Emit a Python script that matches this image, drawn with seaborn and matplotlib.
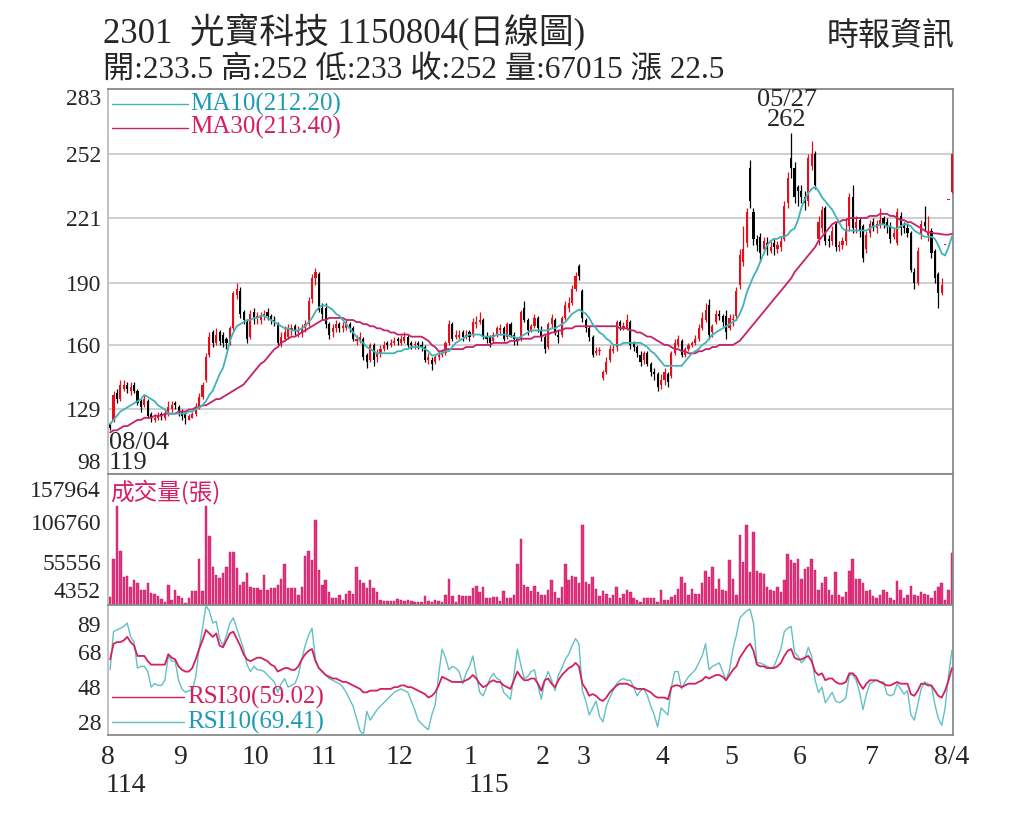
import numpy as np
import pandas as pd
import matplotlib
matplotlib.use("Agg")
import matplotlib.pyplot as plt
import seaborn as sns

# ---------------- data ----------------
month_names = ["8", "9", "10", "11", "12", "1", "2", "3", "4", "5", "6", "7", "8/4"]
month_days = [21, 22, 20, 22, 21, 21, 12, 23, 20, 20, 21, 24]
year_marks = {"8": "114", "1": "115"}
hi_date = "05/27"
lo_date = "08/04"

close = [
    120, 136, 134, 141, 141, 139, 140, 138, 132, 130, 134, 126, 125, 125, 126, 126, 127, 130, 131, 131, 128,
    126, 125, 126, 127, 130, 135, 141, 154, 164, 161, 165, 162, 161, 161, 168, 185, 187, 175, 172, 163, 175, 173,
    173, 174, 175, 174, 172, 171, 161, 164, 166, 168, 168, 167, 167, 168, 170, 181, 192, 195, 177, 175,
    170, 165, 168, 170, 168, 169, 170, 168, 163, 163, 164, 154, 152, 160, 153, 156, 158, 160, 160, 161, 162, 162,
    163, 164, 160, 160, 160, 160, 159, 153, 154, 151, 154, 155, 156, 161, 170, 163, 165, 165, 164, 165, 164,
    171, 171, 172, 164, 163, 161, 165, 168, 168, 163, 170, 165, 163, 162, 176, 172, 167, 169, 173, 168, 164,
    158, 170, 173, 166, 164, 173, 179, 180, 187, 193, 193, 173,
    168, 164, 155, 157, 157, 147, 152, 158, 158, 171, 169, 169, 172, 160, 159, 156, 152, 156, 151, 147, 146, 140, 143,
    147, 142, 156, 161, 163, 155, 158, 160, 161, 163, 168, 173, 177, 165, 169, 175, 174, 171, 166, 173,
    172, 186, 203, 206, 224, 229, 211, 208, 204, 210, 206, 207, 207, 208, 210, 227, 240, 245, 231, 234,
    231, 228, 250, 252, 237, 219, 225, 210, 210, 215, 207, 208, 210, 215, 231, 216, 219, 215, 202, 213, 218,
    217, 218, 220, 218, 217, 211, 214, 224, 216, 216, 214, 196, 190, 205, 218, 217, 214, 204, 192, 185, 189, 208, 229.5, 252,
]
open_ = [
    122, 124, 137, 134, 139, 141, 138, 141, 138, 133, 131, 133, 127, 124, 125, 127, 125, 127, 129, 132, 130,
    128, 127, 124, 125, 127, 130, 135, 143, 155, 166, 161, 166, 165, 163, 161, 168, 184, 186, 176, 171, 164, 176,
    173, 172, 174, 176, 174, 172, 170, 161, 163, 164, 167, 169, 166, 166, 168, 170, 182, 192, 194, 178,
    178, 170, 166, 168, 170, 168, 168, 170, 168, 162, 163, 163, 155, 153, 160, 154, 156, 158, 161, 160, 161, 163,
    161, 162, 164, 161, 160, 161, 160, 159, 153, 153, 152, 154, 155, 156, 161, 170, 164, 164, 166, 164, 166,
    165, 170, 171, 172, 164, 164, 162, 165, 167, 168, 164, 170, 165, 163, 163, 178, 172, 167, 169, 173, 167,
    164, 159, 170, 172, 165, 165, 173, 178, 180, 187, 198, 186,
    172, 168, 164, 156, 157, 144, 147, 153, 157, 159, 171, 168, 168, 171, 161, 159, 155, 153, 156, 151, 147, 146, 141,
    143, 146, 145, 156, 160, 162, 155, 158, 160, 161, 163, 168, 172, 179, 166, 171, 175, 174, 174, 168,
    172, 174, 189, 200, 209, 245, 224, 211, 212, 206, 209, 205, 209, 206, 207, 211, 228, 250, 245, 236,
    234, 231, 229, 246, 252, 211, 216, 226, 211, 210, 218, 207, 208, 210, 217, 231, 216, 220, 217, 206, 214,
    219, 216, 218, 221, 219, 217, 212, 209, 222, 217, 216, 214, 195, 190, 213, 219, 213, 215, 205, 194, 185, 208, 229.5, 233.5,
]
high = [
    123, 138, 139, 143, 143, 142, 142, 142, 139, 134, 136, 134, 128, 127, 128, 128, 129, 133, 133, 133, 131,
    129, 128, 127, 128, 132, 137, 142, 156, 166, 167, 168, 167, 166, 164, 169, 186, 190, 188, 177, 172, 177, 178,
    176, 176, 177, 178, 175, 174, 171, 166, 169, 170, 170, 170, 169, 170, 172, 183, 194, 197, 195, 180,
    180, 171, 170, 172, 171, 171, 172, 171, 169, 165, 166, 164, 156, 161, 161, 158, 160, 162, 162, 163, 164, 164,
    165, 166, 165, 162, 162, 162, 162, 160, 156, 154, 155, 157, 158, 162, 172, 171, 167, 167, 167, 167, 167,
    173, 174, 176, 173, 166, 165, 166, 169, 170, 169, 171, 171, 166, 164, 177, 181, 173, 170, 175, 174, 169,
    165, 171, 175, 173, 167, 174, 181, 183, 189, 195, 199, 187,
    173, 169, 165, 159, 159, 148, 154, 160, 160, 172, 172, 171, 175, 172, 162, 160, 157, 157, 157, 152, 149, 147, 146,
    149, 147, 157, 163, 165, 163, 159, 161, 162, 165, 170, 176, 180, 182, 170, 177, 177, 175, 177, 175,
    175, 188, 206, 217, 226, 249, 226, 213, 214, 212, 212, 210, 211, 210, 212, 229, 243, 262, 248, 237,
    237, 234, 252, 258, 253, 222, 227, 227, 213, 217, 219, 210, 212, 221, 233, 237, 222, 221, 218, 215, 220,
    221, 220, 226, 222, 221, 219, 216, 226, 224, 219, 218, 215, 197, 207, 220, 227, 222, 216, 206, 195, 192, 208, 229.5, 252,
]
low = [
    119, 123, 132, 133, 138, 137, 136, 137, 131, 128, 130, 125, 123, 123, 124, 124, 124, 126, 128, 129, 126,
    124, 122, 124, 125, 126, 129, 134, 142, 154, 159, 160, 160, 159, 158, 160, 167, 182, 173, 170, 161, 163, 170,
    170, 170, 172, 172, 170, 169, 160, 159, 162, 163, 165, 165, 164, 164, 166, 169, 180, 189, 176, 172,
    168, 163, 164, 166, 166, 166, 167, 166, 162, 160, 161, 153, 149, 152, 150, 152, 154, 157, 158, 159, 160, 160,
    160, 161, 159, 158, 158, 158, 157, 152, 151, 148, 151, 153, 154, 155, 160, 162, 163, 163, 162, 163, 162,
    164, 168, 170, 163, 161, 159, 161, 164, 165, 162, 163, 164, 160, 160, 162, 171, 165, 166, 168, 166, 162,
    156, 158, 168, 165, 161, 164, 172, 176, 179, 186, 191, 171,
    166, 162, 154, 155, 155, 143, 146, 152, 156, 157, 167, 167, 167, 158, 157, 154, 150, 151, 150, 145, 143, 138, 139,
    141, 140, 144, 155, 159, 154, 154, 157, 159, 160, 162, 167, 171, 163, 164, 170, 172, 169, 163, 167,
    169, 172, 187, 198, 207, 226, 208, 205, 200, 204, 203, 204, 203, 204, 205, 210, 226, 240, 228, 227,
    228, 225, 227, 244, 235, 208, 214, 208, 207, 208, 205, 205, 206, 208, 215, 214, 214, 212, 200, 204, 212,
    215, 214, 216, 216, 214, 209, 211, 208, 213, 214, 212, 195, 187, 189, 211, 215, 210, 202, 190, 178, 184, 208, 229.5, 233,
]
# volume in thousands of lots (張)
vol_k = [
    12, 60, 127, 70, 37, 38, 24, 33, 30, 21, 21, 30, 17, 16, 13, 9, 6, 27, 8, 21, 13,
    11, 4.5, 11, 19, 19, 60, 19, 127, 89, 50, 40, 36, 42, 50, 69, 69, 48, 27, 31, 42, 25,
    23, 23, 21, 40, 21, 23, 23, 27, 35, 54, 23, 23, 23, 14, 25, 63, 70, 58, 109, 46, 27,
    33, 18, 11, 11, 14, 8, 16, 19, 16, 49, 33, 30, 23, 33, 23, 18, 8, 7, 7, 7, 7, 9,
    8, 7, 8, 7, 6, 6, 5, 13, 7, 6, 8, 7, 6, 15, 35, 13, 6, 15, 13, 13, 13,
    23, 26, 18, 24, 11, 11, 12, 12, 7, 20, 11, 11, 15, 54, 85, 27, 24, 19, 26, 18, 15,
    15, 21, 33, 18, 10, 25, 53, 33, 38, 37, 29, 102, 31, 28, 37, 22, 13, 19, 16, 10, 15,
    25, 11, 16, 21, 18, 11, 8, 6, 11, 11, 11, 11, 6, 21, 8, 8, 12, 14, 22, 37, 30,
    14, 22, 16, 16, 29, 45, 37, 50, 22, 35, 21, 19, 58, 34, 14, 90, 56, 102, 43, 94, 45,
    42, 41, 25, 21, 20, 24, 18, 33, 66, 58, 55, 60, 35, 47, 49, 60, 46, 21, 29, 37, 21,
    14, 43, 15, 12, 18, 45, 60, 34, 35, 30, 19, 21, 13, 11, 14, 21, 18, 10, 8, 32, 21,
    11, 15, 26, 14, 13, 18, 16, 15, 10, 19, 25, 29, 8, 21, 67.015,
]
ma10 = [
    122, 124, 126, 128, 129, 130, 131, 132, 133, 134, 136,
    135, 134, 133, 131, 130, 129, 127, 127, 127, 127, 127,
    127, 128, 128, 129, 130, 131, 133, 136, 138, 142, 146,
    149, 155, 162, 166, 169, 170, 171, 172, 172, 173, 173,
    174, 174, 173, 172, 171, 170, 169, 168, 168, 167, 167,
    167, 168, 169, 171, 173, 176, 178, 179, 179, 178, 177,
    175, 174, 172, 170, 168, 166, 164, 162, 161, 159, 158,
    157, 156, 156, 156, 156, 156, 156, 157, 157, 158, 158,
    159, 159, 159, 159, 158, 157, 155, 155, 156, 156, 157,
    157, 159, 161, 162, 163, 164, 165, 165, 165, 165, 164,
    164, 164, 164, 165, 165, 165, 165, 164, 164, 163, 164,
    165, 166, 167, 167, 167, 167, 167, 167, 168, 168, 169,
    170, 171, 173, 175, 176, 177, 176, 175, 173, 170, 168,
    166, 165, 163, 162, 160, 160, 160, 161, 161, 161, 161,
    161, 161, 160, 159, 157, 156, 154, 152, 150, 150, 150,
    150, 150, 150, 152, 154, 156, 157, 158, 160, 161, 163,
    165, 166, 167, 168, 169, 170, 171, 172, 175, 179, 185,
    189, 193, 196, 200, 204, 208, 210, 211, 211, 212, 212,
    213, 215, 216, 220, 226, 230, 233, 235, 236, 234, 231,
    229, 227, 225, 222, 219, 216, 215, 215, 215, 215, 215,
    215, 215, 216, 217, 217, 218, 218, 217, 217, 216, 216,
    217, 218, 218, 217, 215, 214, 213, 212, 212, 212, 211,
    208, 204, 203, 207, 212.20,
]
ma30 = [
    118, 119, 119, 120, 121, 121, 122, 123, 124, 124, 125,
    125, 125, 126, 126, 126, 127, 127, 127, 127, 128, 128,
    128, 129, 129, 130, 130, 131, 131, 132, 133, 134, 134,
    135, 136, 137, 138, 139, 140, 141, 143, 145, 147, 149,
    151, 152, 154, 156, 158, 159, 161, 162, 163, 164, 164,
    165, 166, 167, 168, 169, 170, 171, 172, 172, 173, 173,
    173, 173, 173, 172, 172, 172, 171, 171, 170, 170, 169,
    169, 168, 168, 167, 167, 166, 166, 165, 165, 165, 165,
    164, 164, 164, 164, 163, 162, 160, 159, 157, 157, 158,
    158, 158, 158, 158, 158, 159, 159, 159, 160, 160, 160,
    160, 160, 161, 161, 161, 161, 161, 162, 162, 162, 163,
    163, 163, 163, 164, 164, 164, 165, 165, 166, 166, 167,
    167, 168, 168, 168, 169, 169, 169, 169, 169, 169, 169,
    169, 169, 169, 169, 169, 169, 168, 168, 168, 167, 167,
    166, 166, 165, 164, 164, 163, 162, 161, 160, 160, 159,
    158, 158, 157, 157, 156, 156, 156, 157, 157, 158, 158,
    159, 159, 160, 160, 160, 160, 160, 161, 162, 164, 166,
    168, 170, 172, 174, 176, 178, 180, 182, 184, 186, 188,
    190, 192, 195, 197, 199, 201, 203, 205, 207, 210, 212,
    214, 216, 218, 219, 219, 220, 220, 221, 221, 221, 221,
    221, 221, 222, 222, 222, 223, 223, 223, 222, 222, 221,
    220, 220, 219, 219, 218, 217, 216, 215, 214, 214, 213.6,
    213.5, 213.2, 213, 213, 213.40,
]
rsi10 = [
    58, 80, 81, 82, 83, 85, 77, 74, 59, 60, 60,
    57, 48, 50, 49, 49, 52, 66, 63, 63, 52, 47,
    45, 46, 46, 54, 70, 82, 95, 92, 85, 86, 76,
    72, 78, 85, 88, 82, 76, 70, 61, 57, 60, 58,
    58, 57, 55, 53, 51, 45, 50, 53, 48, 49, 50,
    55, 64, 72, 78, 82, 64, 59, 57, 55, 53, 52,
    51, 50, 48, 45, 41, 37, 30, 23, 20.5, 34, 29,
    32, 35, 37, 39, 41, 43, 45, 46, 47, 46, 45,
    40, 35, 29, 27, 25, 23.5, 32, 38, 55, 70, 65,
    58, 60, 59, 57, 50, 56, 60, 66, 55, 45, 43,
    48, 53, 56, 53, 52, 45, 43, 41, 55, 70, 61,
    53, 54, 57, 58, 49, 41, 52, 57, 52, 46, 55,
    59, 64, 67, 72, 76, 73, 46, 40, 32, 36, 40,
    31, 28, 37, 42, 46, 50, 52, 53, 52, 52, 48,
    43, 46, 47, 43, 37, 32, 25, 36, 34, 32, 48,
    57, 57, 47, 51, 54, 56, 58, 62, 66, 73, 58,
    60, 61, 62, 57, 52, 58, 70, 78, 88, 90, 92,
    93, 85, 62, 62, 61, 60, 59, 60, 65, 70, 80,
    82, 83, 68, 66, 62, 64, 71, 66, 52, 45, 48,
    39, 42, 45, 40, 39, 40, 42, 55, 55, 52, 45,
    35, 44, 50, 51, 52, 51, 51, 44, 43, 44, 50,
    47, 44, 46, 32, 29, 38, 47, 51, 50, 49, 38,
    30, 26, 36, 55, 69.41,
]
rsi30 = [
    64, 73, 74, 74, 75, 77, 74, 72, 66, 66, 66,
    63, 61, 61, 61, 61, 61, 67, 65, 64, 60, 58,
    57, 57, 59, 64, 70, 75, 81, 79, 77, 79, 72,
    71, 75, 79, 80, 76, 72, 67, 64, 63, 64, 65,
    65, 64, 63, 61, 60, 57, 58, 59, 59, 58, 58,
    60, 64, 67, 69, 70, 63, 59, 57, 55, 54, 53,
    53, 52, 51, 51, 50, 49, 48, 47, 45, 45, 46,
    46, 46, 47, 47, 47, 47, 48, 48, 49, 49, 48,
    48, 47, 46, 45, 44, 42, 43, 45, 49, 54, 53,
    52, 51, 51, 51, 51, 52, 53, 55, 53, 50, 48,
    49, 51, 52, 51, 51, 49, 48, 47, 52, 57, 54,
    52, 52, 53, 53, 50, 46, 52, 53, 50, 48, 52,
    55, 57, 59, 60, 62, 60, 50, 47, 43, 44, 43,
    41, 40, 42, 45, 47, 49, 50, 50, 50, 49, 48,
    47, 47, 47, 46, 45, 43, 42, 42, 42, 41, 48,
    49, 49, 48, 49, 50, 50, 50, 51, 52, 54, 53,
    54, 55, 55, 54, 52, 55, 58, 60, 65, 68, 71,
    73, 69, 61, 60, 60, 59, 59, 59, 60, 62, 66,
    69, 70, 65, 64, 64, 65, 66, 63, 57, 55, 56,
    52, 53, 53, 51, 50, 50, 51, 56, 56, 54, 50,
    47, 50, 52, 52, 52, 51, 50, 49, 49, 50, 51,
    50, 50, 50, 44, 43, 46, 50, 50, 49, 49, 46,
    43, 42, 46, 52, 59.02,
]

price_ticks = [98, 129, 160, 190, 221, 252, 283]
vol_ticks = [4352, 55556, 106760, 157964]
rsi_ticks = [28, 48, 68, 89]

n = len(close)
for name, arr in [("open", open_), ("high", high), ("low", low), ("vol", vol_k),
                  ("ma10", ma10), ("ma30", ma30), ("rsi10", rsi10), ("rsi30", rsi30)]:
    assert len(arr) == n, (name, len(arr), n)
assert sum(month_days) == n

df = pd.DataFrame({
    "idx": np.arange(n), "open": open_, "high": high, "low": low, "close": close,
    "vol": np.array(vol_k) * 1000, "ma10": ma10, "ma30": ma30, "rsi10": rsi10, "rsi30": rsi30,
})

# ---------------- style ----------------
sns.set_theme(style="white")
FAM = ["Liberation Serif", "Noto Sans CJK TC", "DejaVu Sans"]
plt.rcParams["font.family"] = FAM
plt.rcParams["axes.unicode_minus"] = False

RED = "#e3101c"
C_MA10 = "#3fb3b8"
C_MA10_TXT = "#1b9cb4"
C_MA30 = "#c4226a"
C_MA30_TXT = "#d81e63"
C_VOL = "#e8327e"
C_RSI30 = "#d3215f"
C_RSI10 = "#62c0c4"
GRID = "#cfcfcf"
SPINE = "#8a8a8a"

W, H = 1024, 819
fig = plt.figure(figsize=(W / 100, H / 100), dpi=100)
L, R = 108, 953
def box(top, bot):
    return [L / W, 1 - bot / H, (R - L) / W, (bot - top) / H]
ax1 = fig.add_axes(box(89, 474))
ax2 = fig.add_axes(box(474, 605))
ax3 = fig.add_axes(box(605, 735))

xlim = (-0.62, n - 0.7)

# ---------------- price panel ----------------
up = df["close"] >= df["open"]
cols = np.where(up, RED, "black")
ax1.vlines(df["idx"], df["low"], df["high"], colors=cols, lw=0.9, zorder=3)
body_lo = np.minimum(df["open"], df["close"])
body_h = np.maximum((df["close"] - df["open"]).abs(), 0.7)
ax1.bar(df["idx"], body_h, bottom=body_lo, width=0.62, color=cols, linewidth=0, zorder=3)
sns.lineplot(data=df, x="idx", y="ma30", ax=ax1, color=C_MA30, lw=1.3, zorder=4)
sns.lineplot(data=df, x="idx", y="ma10", ax=ax1, color=C_MA10, lw=1.3, zorder=5)
ax1.set_ylim(price_ticks[0], price_ticks[-1])
ax1.set_yticks(price_ticks)
ax1.set_yticklabels([str(t) for t in price_ticks])
ax1.yaxis.grid(True, color=GRID, lw=1.4)
ax1.set_axisbelow(True)

# legend-like labels
ax1.plot([0.005, 0.095], [0.961, 0.961], transform=ax1.transAxes, color=C_MA10, lw=1.0)
ax1.text(0.097, 0.961, f"MA10({ma10[-1]:.2f})", transform=ax1.transAxes, color=C_MA10_TXT,
         fontsize=18, va="center", ha="left")
ax1.plot([0.005, 0.095], [0.899, 0.899], transform=ax1.transAxes, color=C_MA30, lw=1.0)
ax1.text(0.097, 0.899, f"MA30({ma30[-1]:.2f})", transform=ax1.transAxes, color=C_MA30_TXT,
         fontsize=18, va="center", ha="left")

imax = int(np.argmax(high))
ax1.annotate(f"{hi_date}\n{high[imax]:g}", xy=(imax, high[imax]), xytext=(-3, 1),
             textcoords="offset points", ha="center", va="bottom", fontsize=19,
             linespacing=0.9, annotation_clip=False)
imin = int(np.argmin(low))
ax1.annotate(f"{lo_date}\n{low[imin]:g}", xy=(imin, low[imin]), xytext=(-1, -1),
             textcoords="offset points", ha="left", va="top", fontsize=19,
             linespacing=0.9, annotation_clip=False)

# ---------------- volume panel ----------------
sns.barplot(data=df, x="idx", y="vol", ax=ax2, native_scale=True, color=C_VOL,
            saturation=1, width=0.72, edgecolor="#b5185e", linewidth=0.3, errorbar=None)
vstep = vol_ticks[1] - vol_ticks[0]
ax2.set_ylim(vol_ticks[0] - 0.05 * vstep, vol_ticks[-1] + 0.17 * vstep)
ax2.set_yticks(vol_ticks)
ax2.set_yticklabels([str(t) for t in vol_ticks])
ax2.text(0.003, 0.86, "成交量(張)", transform=ax2.transAxes, color=C_MA30_TXT,
         fontsize=17, va="center", ha="left", family=["Noto Sans CJK TC", "DejaVu Sans"])

# ---------------- RSI panel ----------------
sns.lineplot(data=df, x="idx", y="rsi10", ax=ax3, color=C_RSI10, lw=1.0, zorder=3)
sns.lineplot(data=df, x="idx", y="rsi30", ax=ax3, color=C_RSI30, lw=1.3, zorder=4)
ax3.set_ylim(20.4, 95.4)
ax3.set_yticks(rsi_ticks)
ax3.set_yticklabels([str(t) for t in rsi_ticks])
ax3.plot([0.005, 0.09], [0.292, 0.292], transform=ax3.transAxes, color=C_RSI30, lw=1.0)
ax3.text(0.094, 0.292, f"RSI30({rsi30[-1]:.2f})", transform=ax3.transAxes, color=C_RSI30,
         fontsize=18, va="center", ha="left", zorder=6)
ax3.plot([0.005, 0.09], [0.10, 0.10], transform=ax3.transAxes, color=C_RSI10, lw=1.0)
ax3.text(0.094, 0.10, f"RSI10({rsi10[-1]:.2f})", transform=ax3.transAxes, color=C_MA10_TXT,
         fontsize=18, va="center", ha="left", zorder=6)

# month ticks
starts = np.cumsum([0] + month_days[:-1])
tick_pos = [s - 0.55 for s in starts] + [n - 1]
ax3.set_xticks(tick_pos)
ax3.set_xticklabels(month_names, fontsize=20)
ax3.set_xticks(np.arange(n), minor=True)
ax3.tick_params(axis="x", which="major", length=6, width=1.0, color=SPINE, pad=1, direction="out")
ax3.tick_params(axis="x", which="minor", length=3, width=0.6, color=SPINE, direction="out")
for lab, pos in zip(month_names, tick_pos):
    if lab in year_marks:
        ax3.text(pos - 0.8, -0.29, year_marks[lab], transform=ax3.get_xaxis_transform(),
                 ha="left", va="top", fontsize=20)

for ax in (ax1, ax2, ax3):
    ax.set_xlim(*xlim)
    ax.set_xlabel("")
    ax.set_ylabel("")
    for s in ax.spines.values():
        s.set_color(SPINE)
        s.set_linewidth(1.3)
    ax.spines["left"].set_color("#bdbdbd")
    ax.tick_params(axis="y", which="major", length=3, color=SPINE, pad=2, labelsize=17)
for ax in (ax1, ax2):
    ax.set_xticks([])

# edge tick labels sit inside their panel (as in the reference)
ylabs = ax1.get_yticklabels()
ylabs[0].set_va("bottom")
ylabs[-1].set_va("top")
vlabs = ax2.get_yticklabels()
vlabs[0].set_va("bottom")
vlabs[-1].set_va("top")
rlabs = ax3.get_yticklabels()
rlabs[-1].set_va("top")

# ---------------- header ----------------
fmt = lambda v: f"{v:g}"
fig.text(103 / W, 1 - 43 / H, "2301  光寶科技 1150804(日線圖)", fontsize=25, va="baseline", ha="left")
info = (f"開:{fmt(open_[-1])} 高:{fmt(high[-1])} 低:{fmt(low[-1])} 收:{fmt(close[-1])} "
        f"量:{int(round(vol_k[-1] * 1000))} 漲 {fmt(close[-1] - close[-2])}")
fig.text(103 / W, 1 - 79 / H, info, fontsize=22.5, va="baseline", ha="left")
fig.text(955 / W, 1 - 45 / H, "時報資訊", fontsize=23, va="baseline", ha="right")

fig.savefig("out.png", dpi=100, facecolor="white")
